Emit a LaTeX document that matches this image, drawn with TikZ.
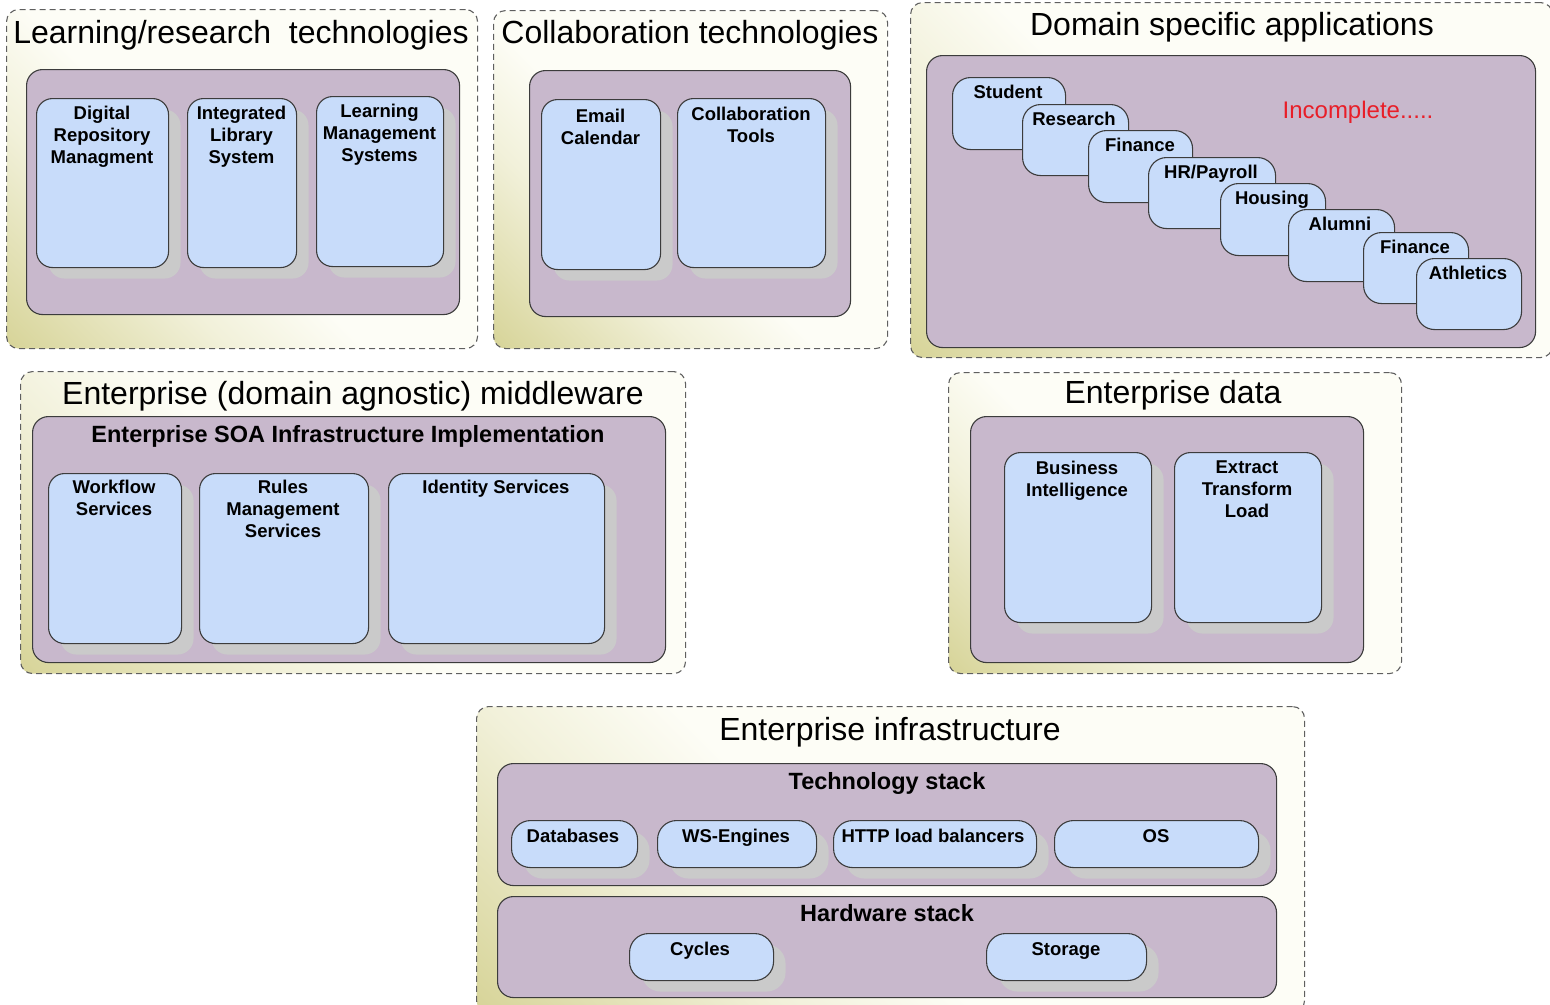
\documentclass[tikz,border=0pt]{standalone}
\usepackage{fontspec}
\setmainfont{Liberation Sans}
\usetikzlibrary{shadows}
\definecolor{purp}{RGB}{200,184,204}
\definecolor{bluef}{RGB}{200,220,250}
\definecolor{shad}{RGB}{202,202,202}
\definecolor{oliv}{RGB}{214,211,150}
\definecolor{cream}{RGB}{253,253,246}
\definecolor{edgec}{RGB}{60,60,60}
\definecolor{dashc}{RGB}{95,95,95}
\definecolor{incred}{RGB}{232,30,40}
\pgfdeclarehorizontalshading{outerfade}{100bp}{color(0bp)=(oliv); color(14bp)=(oliv); color(24bp)=(oliv!65!cream); color(34bp)=(oliv!30!cream); color(46bp)=(cream); color(100bp)=(cream)}
\newcommand\mkbox[6][]{\node[#1, anchor=north west, inner sep=0pt, minimum width={#5pt-#3pt}, minimum height={#6pt-#4pt}] (#2) at (#3,#4) {};}
\tikzset{
  outerbox/.style={draw=dashc, line width=1.1pt, dash pattern=on 6pt off 4pt, rounded corners=12pt, shading=outerfade, shading angle=45},
  purpbox/.style={draw=edgec, line width=1.1pt, fill=purp, rounded corners=16pt},
  bluebox/.style={draw=edgec, line width=1.1pt, fill=bluef, rounded corners=16pt,
    general shadow={fill=shad, shadow xshift=12pt, shadow yshift=-11pt}},
  pillbox/.style={bluebox, rounded corners=19pt},
  stackbox/.style={draw=edgec, line width=1.1pt, fill=bluef, rounded corners=18pt},
  ttl/.style={inner sep=0pt, font=\fontsize{32}{38}\selectfont},
  hdg/.style={inner sep=0pt, font=\fontsize{23.5}{28}\selectfont\bfseries},
  btxt/.style={inner sep=0pt, align=center, font=\fontsize{18.5}{22}\selectfont\bfseries},
}
\begin{document}
\begin{tikzpicture}[x=1pt,y=-1pt]
\useasboundingbox (0,0) rectangle (1550,1004);
% ---------- Learning/research technologies
\mkbox[outerbox]{oA}{6}{9}{477}{348}
\node[ttl, anchor=base] (tA) at (241,43) {Learning/research\ \ technologies};
\mkbox[purpbox]{pA}{26}{69}{459}{314}
\mkbox[bluebox]{a1}{36}{98}{168}{267}
\mkbox[bluebox]{a2}{187}{98}{296}{267}
\mkbox[bluebox]{a3}{316}{96}{443}{266}
\node[btxt, anchor=north] (ta1) at (102,105.5) {Digital\\Repository\\Managment};
\node[btxt, anchor=north] (ta2) at (241.5,105.5) {Integrated\\Library\\System};
\node[btxt, anchor=north] (ta3) at (379.5,103.5) {Learning\\Management\\Systems};
% ---------- Collaboration technologies
\mkbox[outerbox]{oB}{493}{10}{887}{348}
\node[ttl, anchor=base] (tB) at (690,43) {Collaboration technologies};
\mkbox[purpbox]{pB}{529}{70}{850}{316}
\mkbox[bluebox]{b1}{541}{99}{660}{269}
\mkbox[bluebox]{b2}{677}{98}{825}{267}
\node[btxt, anchor=north] (tb1) at (600.5,108.5) {Email\\Calendar};
\node[btxt, anchor=north] (tb2) at (751,106.5) {Collaboration\\Tools};
% ---------- Domain specific applications
\mkbox[outerbox]{oC}{910}{2}{1552}{357}
\node[ttl, anchor=base] (tC) at (1232,35) {Domain specific applications};
\mkbox[purpbox]{pC}{926}{55}{1535}{347}
\mkbox[stackbox]{c1}{952}{77}{1065}{149}
\node[btxt, anchor=base] (tc1) at (1008,98) {Student};
\mkbox[stackbox]{c2}{1022}{104}{1128}{175}
\node[btxt, anchor=base] (tc2) at (1074,125) {Research};
\mkbox[stackbox]{c3}{1088}{130}{1192}{202}
\node[btxt, anchor=base] (tc3) at (1140,151) {Finance};
\mkbox[stackbox]{c4}{1148}{157}{1275}{228}
\node[btxt, anchor=base] (tc4) at (1211,178) {HR/Payroll};
\mkbox[stackbox]{c5}{1220}{183}{1325}{255}
\node[btxt, anchor=base] (tc5) at (1272,204) {Housing};
\mkbox[stackbox]{c6}{1288}{209}{1394}{281}
\node[btxt, anchor=base] (tc6) at (1340,230) {Alumni};
\mkbox[stackbox]{c7}{1363}{232}{1468}{303}
\node[btxt, anchor=base] (tc7) at (1415,253) {Finance};
\mkbox[stackbox]{c8}{1416}{258}{1521}{329}
\node[btxt, anchor=base] (tc8) at (1468,279) {Athletics};
\node[inner sep=0pt, anchor=base, text=incred, font=\fontsize{24}{28}\selectfont] (inc) at (1358,118) {Incomplete.....};
% ---------- Enterprise (domain agnostic) middleware
\mkbox[outerbox]{oD}{20}{371}{685}{673}
\node[ttl, anchor=base] (tD) at (353,404) {Enterprise (domain agnostic) middleware};
\mkbox[purpbox]{pD}{32}{416}{665}{662}
\node[hdg, anchor=base] (hD) at (348,442) {Enterprise SOA Infrastructure Implementation};
\mkbox[bluebox]{d1}{48}{473}{181}{643}
\mkbox[bluebox]{d2}{199}{473}{368}{643}
\mkbox[bluebox]{d3}{388}{473}{604}{643}
\node[btxt, anchor=north] (td1) at (114,479.5) {Workflow\\Services};
\node[btxt, anchor=north] (td2) at (283,479.5) {Rules\\Management\\Services};
\node[btxt, anchor=north] (td3) at (496,479.5) {Identity Services};
% ---------- Enterprise data
\mkbox[outerbox]{oE}{948}{372}{1401}{673}
\node[ttl, anchor=base] (tE) at (1173,403) {Enterprise data};
\mkbox[purpbox]{pE}{970}{416}{1363}{662}
\mkbox[bluebox]{e1}{1004}{452}{1151}{622}
\mkbox[bluebox]{e2}{1174}{452}{1321}{622}
\node[btxt, anchor=north] (te1) at (1077,460.5) {Business\\Intelligence};
\node[btxt, anchor=north] (te2) at (1247,460.5) {Extract\\Transform\\Load};
% ---------- Enterprise infrastructure
\mkbox[outerbox]{oF}{476}{706}{1304}{1012}
\node[ttl, anchor=base] (tF) at (890,740) {Enterprise infrastructure};
\mkbox[purpbox]{pF1}{497}{763}{1276}{885}
\node[hdg, anchor=base] (hF1) at (887,789) {Technology stack};
\mkbox[pillbox]{f1}{511}{820}{637}{867}
\mkbox[pillbox]{f2}{657}{820}{816}{867}
\mkbox[pillbox]{f3}{833}{820}{1036}{867}
\mkbox[pillbox]{f4}{1054}{820}{1258}{867}
\node[btxt, anchor=base] (tf1) at (573,842) {Databases};
\node[btxt, anchor=base] (tf2) at (736,842) {WS-Engines};
\node[btxt, anchor=base] (tf3) at (933,842) {HTTP load balancers};
\node[btxt, anchor=base] (tf4) at (1156,842) {OS};
\mkbox[purpbox]{pF2}{497}{896}{1276}{997}
\node[hdg, anchor=base] (hF2) at (887,921) {Hardware stack};
\mkbox[pillbox]{g1}{629}{933}{773}{980}
\mkbox[pillbox]{g2}{986}{933}{1146}{980}
\node[btxt, anchor=base] (tg1) at (700,955) {Cycles};
\node[btxt, anchor=base] (tg2) at (1066,955) {Storage};
\end{tikzpicture}
\end{document}
